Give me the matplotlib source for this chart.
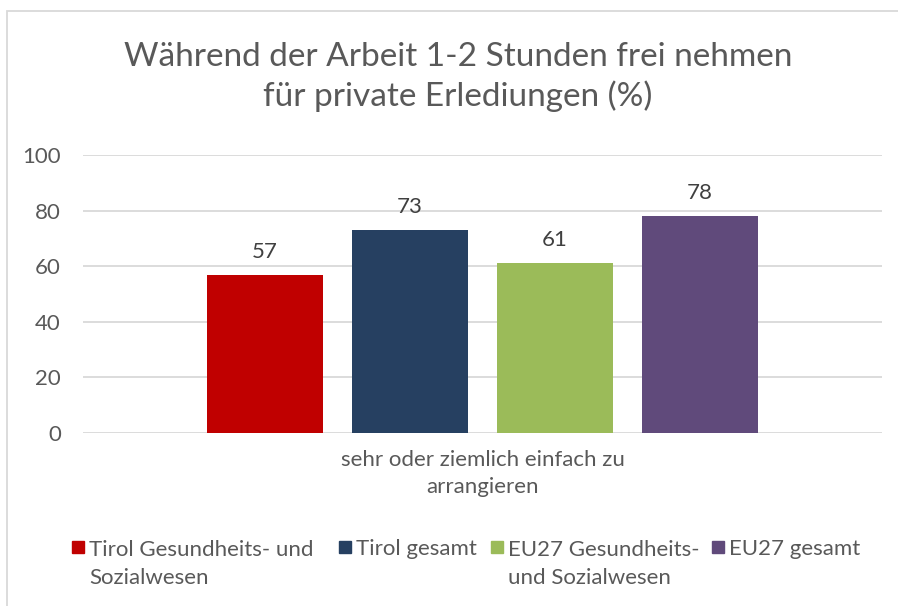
import matplotlib
matplotlib.use("Agg")
import matplotlib.pyplot as plt
from matplotlib.patches import Rectangle

plt.rcParams['font.family'] = ['Lato', 'DejaVu Sans']

title = "Während der Arbeit 1-2 Stunden frei nehmen\nfür private Erlediungen (%)"
category = "sehr oder ziemlich einfach zu\narrangieren"
series = ["Tirol Gesundheits- und\nSozialwesen", "Tirol gesamt",
          "EU27 Gesundheits-\nund Sozialwesen", "EU27 gesamt"]
values = [57, 73, 61, 78]
colors = ["#C00000", "#264061", "#9BBB59", "#604A7B"]
yticks = [0, 20, 40, 60, 80, 100]

W, H = 898, 606
FS = 16
fig = plt.figure(figsize=(W / 100, H / 100), dpi=100)
fig.patch.set_facecolor("white")

# chart border (cropped on right/bottom)
fig.add_artist(Rectangle((7 / W, -0.1), 1.2, 1 - 11 / H + 0.1, transform=fig.transFigure,
                         fill=False, edgecolor="#d9d9d9", linewidth=1.3))

ax = fig.add_axes([83 / W, 1 - 433 / H, (882 - 83) / W, (433 - 155) / H])
spacing = 0.1815
width = 0.145
for i, (v, c) in enumerate(zip(values, colors)):
    x = (i - 1.5) * spacing
    ax.bar(x, v, width=width, color=c, zorder=3)
    ax.annotate(f"{v}", (x, v), xytext=(0, 17), textcoords="offset pixels",
                ha="center", va="baseline", fontsize=FS, color="#404040")

ax.set_xlim(-0.5, 0.5)
ax.set_ylim(0, 100)
ax.set_yticks(yticks)
ax.set_yticklabels([str(t) for t in yticks], fontsize=FS, color="#595959")
ax.set_xticks([0])
ax.set_xticklabels([category], fontsize=FS, color="#595959", linespacing=1.45)
ax.tick_params(axis="both", length=0)
ax.tick_params(axis="y", pad=16)
ax.tick_params(axis="x", pad=12)
ax.grid(axis="y", color="#d9d9d9", linewidth=1.3, zorder=0)
for s in ax.spines.values():
    s.set_visible(False)

# title: baseline of the last line at y=106 px
fig.text(458 / W, 1 - 106 / H, title, ha="center", va="baseline", fontsize=24,
         color="#595959", linespacing=1.32)

# legend (first-line baseline at y=555 px, line step 29 px)
leg_x = [72, 339, 491, 712]
for lx, name, c in zip(leg_x, series, colors):
    fig.add_artist(Rectangle((lx / W, 1 - 553 / H), 12 / W, 12 / H,
                             transform=fig.transFigure, color=c))
    nlines = name.count("\n") + 1
    yb = 555 + 29 * (nlines - 1)
    fig.text((lx + 17) / W, 1 - yb / H, name, ha="left", va="baseline", fontsize=FS,
             color="#595959", linespacing=1.5)

fig.savefig("out.png", dpi=100, facecolor="white")
